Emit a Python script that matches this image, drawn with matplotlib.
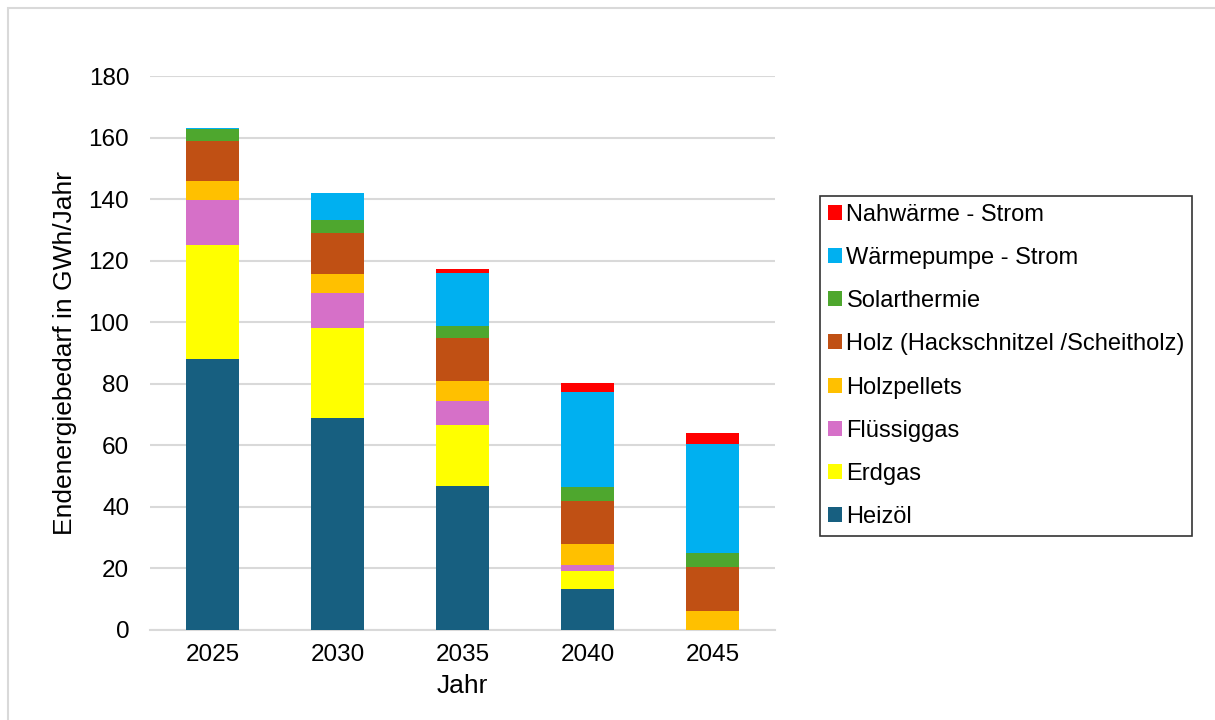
import numpy as np
import matplotlib
matplotlib.use("Agg")
import matplotlib.pyplot as plt
from matplotlib.patches import Rectangle

plt.rcParams['font.family'] = ['Liberation Sans', 'DejaVu Sans']

# Data
jahre = ["2025", "2030", "2035", "2040", "2045"]
heizoel = [88.2, 69.0, 46.9, 13.2, 0.0]
erdgas = [36.9, 29.1, 19.9, 6.0, 0.0]
fluessiggas = [14.6, 11.3, 7.6, 1.9, 0.0]
holzpellets = [6.2, 6.3, 6.5, 6.8, 6.2]
holz = [13.1, 13.5, 13.9, 14.0, 14.3]
solarthermie = [3.8, 4.0, 4.0, 4.5, 4.6]
waermepumpe = [0.4, 8.9, 17.3, 30.9, 35.3]
nahwaerme = [0.0, 0.0, 1.4, 2.9, 3.6]

serien = [
    ("Heizöl", heizoel, "#175F80"),
    ("Erdgas", erdgas, "#FFFF00"),
    ("Flüssiggas", fluessiggas, "#D670C8"),
    ("Holzpellets", holzpellets, "#FFC000"),
    ("Holz (Hackschnitzel /Scheitholz)", holz, "#C05014"),
    ("Solarthermie", solarthermie, "#4EA72E"),
    ("Wärmepumpe - Strom", waermepumpe, "#00B0F0"),
    ("Nahwärme - Strom", nahwaerme, "#FF0000"),
]

fig = plt.figure(figsize=(12.15, 7.2), dpi=100)
ax = fig.add_axes([0.1235, 0.125, 0.5145, 0.769])

x = np.arange(len(jahre))
unten = np.zeros(len(jahre))
for name, werte, farbe in serien:
    ax.bar(x, werte, 0.42, bottom=unten, color=farbe, label=name, zorder=3)
    unten += np.array(werte)

ax.set_xlim(-0.5, 4.5)
ax.set_ylim(0, 180)
ax.set_yticks(range(0, 181, 20))
ax.set_xticks(x)
ax.set_xticklabels(jahre)
ax.yaxis.grid(True, color="#d9d9d9", linewidth=1.5, zorder=0)
for s in ["top", "right", "left"]:
    ax.spines[s].set_visible(False)
ax.spines["bottom"].set_color("#d9d9d9")
ax.spines["bottom"].set_linewidth(1.5)
ax.tick_params(length=0, labelsize=17.5)
ax.tick_params(axis="y", pad=15)
ax.tick_params(axis="x", pad=10)
ax.set_xlabel("Jahr", fontsize=19, labelpad=6)
ax.set_ylabel("Endenergiebedarf in GWh/Jahr", fontsize=19, labelpad=8)

h, l = ax.get_legend_handles_labels()
leg = fig.legend(h[::-1], l[::-1], loc="upper left",
                 bbox_to_anchor=(820 / 1215, 1 - 196 / 720),
                 fontsize=17, frameon=True, fancybox=False,
                 edgecolor="black", handlelength=0.6, handleheight=0.6,
                 handletextpad=0.2, labelspacing=0.9, borderpad=0.32,
                 borderaxespad=0)
leg.get_frame().set_linewidth(1.2)

fig.patches.append(Rectangle((8 / 1215, -0.01), 1.1, 1 - 8 / 720 + 0.01,
                             transform=fig.transFigure, fill=False,
                             edgecolor="#d9d9d9", linewidth=1.5))

fig.savefig("out.png", dpi=100)
